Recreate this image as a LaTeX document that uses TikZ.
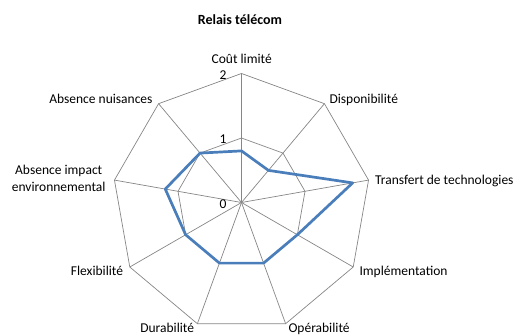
\documentclass[tikz,border=0pt]{standalone}
\usepackage{fontspec}
\setmainfont{Carlito}
\usepackage{xcolor}
\usetikzlibrary{positioning}
\definecolor{grille}{RGB}{134,134,134}
\definecolor{serie}{RGB}{74,126,187}

\begin{document}
\begin{tikzpicture}[x=1pt,y=1pt,
  axe/.style={draw=grille,line width=0.7pt},
  courbe/.style={draw=serie,line width=2.7pt,line join=round},
  lab/.style={inner sep=0pt,font=\fontsize{13.5}{16.7}\selectfont},
  graduation/.style={inner sep=0pt,anchor=base east,font=\fontsize{13.5}{16}\selectfont}]

\useasboundingbox (0,0) rectangle (521,335);

\node[inner sep=0pt,font=\fontsize{14}{16}\bfseries] (titre) at (240,315) {Relais télécom};

\begin{scope}[shift={(241.5,132.5)}]
\coordinate (c) at (0,0);
\foreach \k in {0,1,2,3,4,5,6,7,8}
{\coordinate (o\k) at ({90-40*\k}:129);
 \coordinate (m\k) at ({90-40*\k}:64.5);
 \draw[axe] (c) -- (o\k);}

\draw[axe] (o0) -- (o1) -- (o2) -- (o3) -- (o4) -- (o5) -- (o6) -- (o7) -- (o8) -- cycle;
\draw[axe] (m0) -- (m1) -- (m2) -- (m3) -- (m4) -- (m5) -- (m6) -- (m7) -- (m8) -- cycle;

\node[graduation] (g0) at (-14.8,-6) {0};
\node[graduation] (g1) at (-14.8,58.5) {1};
\node[graduation] (g2) at (-14.8,123) {2};

% valeurs
\foreach \k/\v in {0/0.8, 1/0.65, 2/1.75, 3/1, 4/1, 5/1, 6/1, 7/1.2, 8/1}
{\coordinate (p\k) at ({90-40*\k}:{64.5*\v});}
\draw[courbe] (p0) -- (p1) -- (p2) -- (p3) -- (p4) -- (p5) -- (p6) -- (p7) -- (p8) -- cycle;
\end{scope}

\node[lab,anchor=base] (l0) at (241.7,271) {Coût limité};
\node[lab,anchor=base west] (l1) at (329.3,231) {Disponibilité};
\node[lab,anchor=base west] (l2) at (375,151) {Transfert de technologies};
\node[lab,anchor=base west] (l3) at (359.3,60) {Implémentation};
\node[lab,anchor=base west] (l4) at (288.3,3) {Opérabilité};
\node[lab,anchor=base east] (l5) at (194.3,3) {Durabilité};
\node[lab,anchor=base east] (l6) at (123.3,60) {Flexibilité};
\node[lab,align=center] (l7) at (58.7,156.7) {Absence impact\\environnemental};
\node[lab,anchor=base east] (l8) at (152.7,231) {Absence nuisances};

\end{tikzpicture}
\end{document}
